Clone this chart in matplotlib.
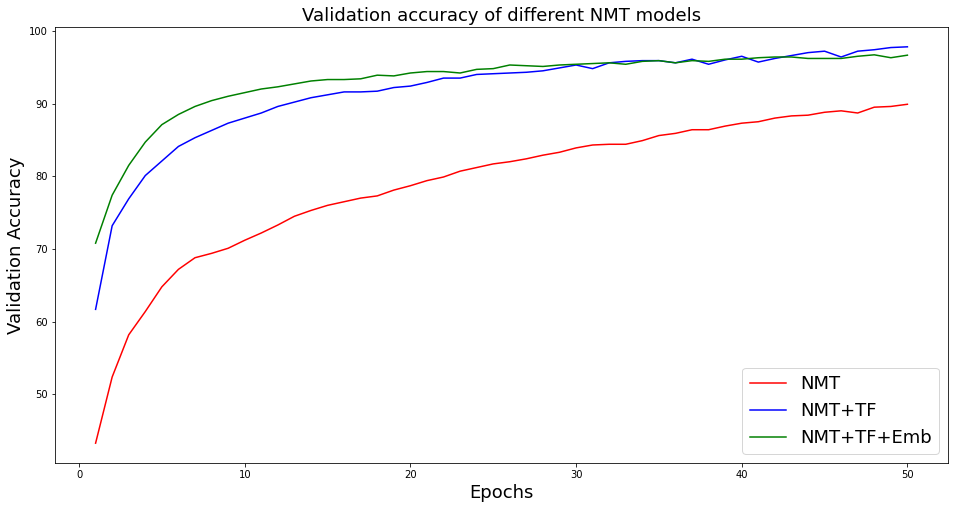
import numpy as np
import matplotlib; matplotlib.use('Agg')
import matplotlib.pyplot as plt

epochs = list(range(1, 51))

nmt = [43.3, 52.4, 58.2, 61.4, 64.8, 67.2, 68.8, 69.4, 70.1, 71.2,
       72.2, 73.3, 74.5, 75.3, 76.0, 76.5, 77.0, 77.3, 78.1, 78.7,
       79.4, 79.9, 80.7, 81.2, 81.7, 82.0, 82.4, 82.9, 83.3, 83.9,
       84.3, 84.4, 84.4, 84.9, 85.6, 85.9, 86.4, 86.4, 86.9, 87.3,
       87.5, 88.0, 88.3, 88.4, 88.8, 89.0, 88.7, 89.5, 89.6, 89.9]

nmt_tf = [61.7, 73.2, 76.9, 80.1, 82.1, 84.1, 85.3, 86.3, 87.3, 88.0,
          88.7, 89.6, 90.2, 90.8, 91.2, 91.6, 91.6, 91.7, 92.2, 92.4,
          92.9, 93.5, 93.5, 94.0, 94.1, 94.2, 94.3, 94.5, 94.9, 95.3,
          94.8, 95.6, 95.8, 95.9, 95.9, 95.6, 96.1, 95.4, 96.0, 96.5,
          95.7, 96.2, 96.6, 97.0, 97.2, 96.4, 97.2, 97.4, 97.7, 97.8]

nmt_tf_emb = [70.8, 77.4, 81.5, 84.7, 87.1, 88.5, 89.6, 90.4, 91.0, 91.5,
              92.0, 92.3, 92.7, 93.1, 93.3, 93.3, 93.4, 93.9, 93.8, 94.2,
              94.4, 94.4, 94.2, 94.7, 94.8, 95.3, 95.2, 95.1, 95.3, 95.4,
              95.5, 95.6, 95.4, 95.8, 95.9, 95.6, 95.9, 95.8, 96.1, 96.1,
              96.3, 96.4, 96.4, 96.2, 96.2, 96.2, 96.5, 96.7, 96.3, 96.65]

fig = plt.figure(figsize=(958 / 72, 508 / 72), dpi=72)
ax = fig.add_axes([55 / 958, 45 / 508, 893 / 958, 436 / 508])

ax.plot(epochs, nmt, color='r', label='NMT')
ax.plot(epochs, nmt_tf, color='b', label='NMT+TF')
ax.plot(epochs, nmt_tf_emb, color='g', label='NMT+TF+Emb')

ax.set_title('Validation accuracy of different NMT models', fontsize=18)
ax.set_xlabel('Epochs', fontsize=18)
ax.set_ylabel('Validation Accuracy', fontsize=18)
ax.legend(loc='lower right', fontsize=18)

fig.savefig('out.png', dpi=72)
